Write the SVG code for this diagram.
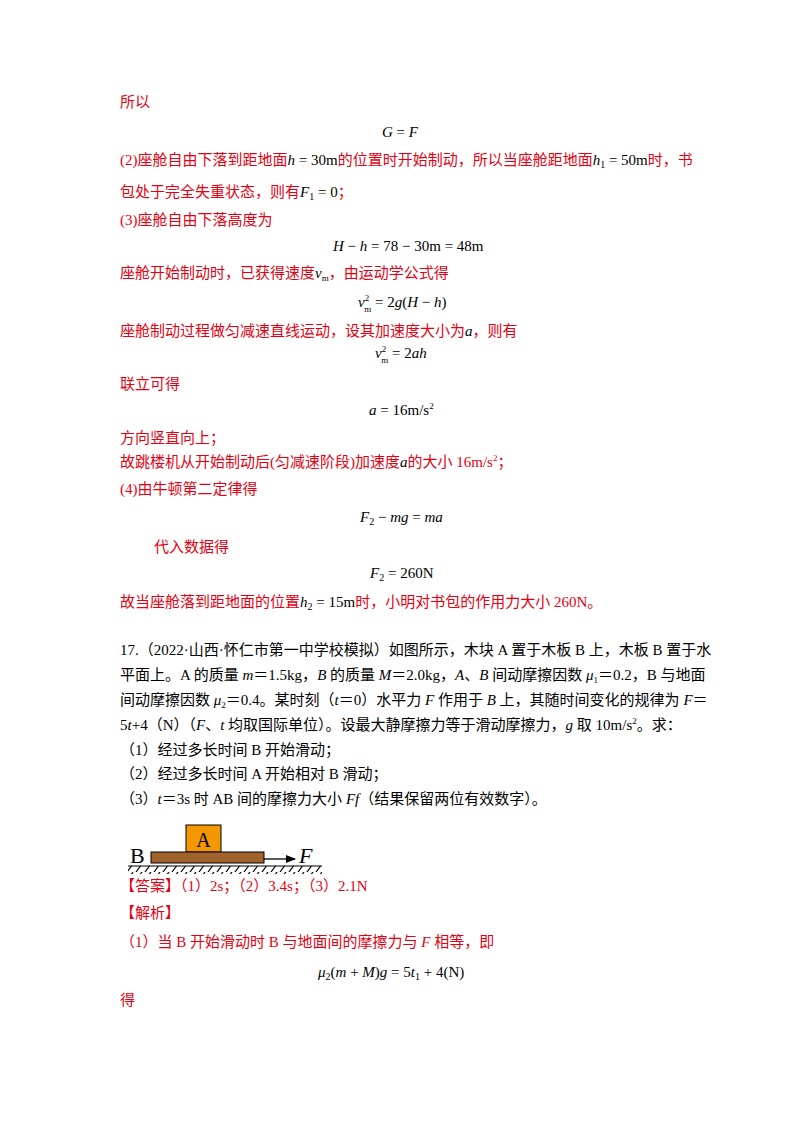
<svg xmlns="http://www.w3.org/2000/svg" width="800" height="1132" viewBox="0 0 800 1132">
<style>
svg{font-size:15px}
text{font-family:"Liberation Serif","Noto Sans CJK SC",serif}
.r{fill:#e60012}
.k{fill:#000}
.i{font-style:italic}
</style>
<defs><marker id="ah" markerWidth="10" markerHeight="8" refX="9" refY="4" orient="auto" markerUnits="userSpaceOnUse"><path d="M0,0 L10,4 L0,8 Z" fill="#000"/></marker>
<pattern id="hatch" width="9" height="8" patternUnits="userSpaceOnUse"><line x1="7" y1="0" x2="1" y2="8" stroke="#000" stroke-width="1.2"/></pattern></defs>
<rect width="800" height="1132" fill="#fff"/>
<text class="r" x="120" y="107">所以</text>
<text class="k" x="382" y="137"><tspan class="i">G</tspan> = <tspan class="i">F</tspan></text>
<text class="r" x="120" y="165">(2)座舱自由下落到距地面<tspan class="k"><tspan class="i">h</tspan> = 30m</tspan>的位置时开始制动，所以当座舱距地面<tspan class="k"><tspan class="i">h</tspan><tspan font-size="10" dy="3">1</tspan><tspan dy="-3"> = 50m</tspan></tspan>时，书</text>
<text class="r" x="120" y="197">包处于完全失重状态，则有<tspan class="k"><tspan class="i">F</tspan><tspan font-size="10" dy="3">1</tspan><tspan dy="-3"> = 0</tspan></tspan>；</text>
<text class="r" x="120" y="225">(3)座舱自由下落高度为</text>
<text class="k" x="333" y="251"><tspan class="i">H</tspan> − <tspan class="i">h</tspan> = 78 − 30m = 48m</text>
<text class="r" x="120" y="278">座舱开始制动时，已获得速度<tspan class="k"><tspan class="i">v</tspan><tspan font-size="9" dy="3">m</tspan></tspan><tspan dy="-3">，由运动学公式得</tspan></text>
<text class="k" x="358" y="307"><tspan class="i">v</tspan><tspan font-size="9" dy="-6">2</tspan><tspan font-size="9" dx="-5" dy="11">m</tspan><tspan dy="-5"> = 2</tspan><tspan class="i">g</tspan>(<tspan class="i">H</tspan> − <tspan class="i">h</tspan>)</text>
<text class="r" x="120" y="336">座舱制动过程做匀减速直线运动，设其加速度大小为<tspan class="k i">a</tspan>，则有</text>
<text class="k" x="375" y="358"><tspan class="i">v</tspan><tspan font-size="9" dy="-6">2</tspan><tspan font-size="9" dx="-5" dy="11">m</tspan><tspan dy="-5"> = 2</tspan><tspan class="i">ah</tspan></text>
<text class="r" x="120" y="389">联立可得</text>
<text class="k" x="369" y="415"><tspan class="i">a</tspan> = 16m/s<tspan font-size="9" dy="-6">2</tspan></text>
<text class="r" x="120" y="443">方向竖直向上；</text>
<text class="r" x="120" y="467">故跳楼机从开始制动后(匀减速阶段)加速度<tspan class="k i">a</tspan>的大小 16m/s<tspan font-size="9" dy="-6">2</tspan><tspan dy="6">；</tspan></text>
<text class="r" x="120" y="494">(4)由牛顿第二定律得</text>
<text class="k" x="360" y="522"><tspan class="i">F</tspan><tspan font-size="10" dy="3">2</tspan><tspan dy="-3"> − </tspan><tspan class="i">mg</tspan> = <tspan class="i">ma</tspan></text>
<text class="r" x="154" y="552">代入数据得</text>
<text class="k" x="370" y="578"><tspan class="i">F</tspan><tspan font-size="10" dy="3">2</tspan><tspan dy="-3"> = 260N</tspan></text>
<text class="r" x="120" y="607">故当座舱落到距地面的位置<tspan class="k"><tspan class="i">h</tspan><tspan font-size="10" dy="3">2</tspan><tspan dy="-3"> = 15m</tspan></tspan>时，小明对书包的作用力大小 260N。</text>
<g class="k">
<text x="120" y="655">17.（2022·山西·怀仁市第一中学校模拟）如图所示，木块 A 置于木板 B 上，木板 B 置于水</text>
<text x="120" y="680">平面上。A 的质量 <tspan class="i">m</tspan>＝1.5kg，<tspan class="i">B</tspan> 的质量 <tspan class="i">M</tspan>＝2.0kg，<tspan class="i">A</tspan>、<tspan class="i">B</tspan> 间动摩擦因数 <tspan class="i">μ</tspan><tspan font-size="9" dy="3">1</tspan><tspan dy="-3">＝0.2，B 与地面</tspan></text>
<text x="120" y="705">间动摩擦因数 <tspan class="i">μ</tspan><tspan font-size="9" dy="3">2</tspan><tspan dy="-3">＝0.4。某时刻（</tspan><tspan class="i">t</tspan>＝0）水平力 <tspan class="i">F</tspan> 作用于 <tspan class="i">B</tspan> 上，其随时间变化的规律为 <tspan class="i">F</tspan>＝</text>
<text x="120" y="730">5<tspan class="i">t</tspan>+4（N）（<tspan class="i">F</tspan>、<tspan class="i">t</tspan> 均取国际单位）。设最大静摩擦力等于滑动摩擦力，<tspan class="i">g</tspan> 取 10m/s<tspan font-size="9" dy="-6">2</tspan><tspan dy="6">。求：</tspan></text>
<text x="120" y="755">（1）经过多长时间 B 开始滑动；</text>
<text x="120" y="779">（2）经过多长时间 A 开始相对 B 滑动；</text>
<text x="120" y="804">（3）<tspan class="i">t</tspan>＝3s 时 AB 间的摩擦力大小 <tspan class="i">Ff</tspan>（结果保留两位有效数字）。</text>
</g>
<g id="figure">
<rect x="186" y="825" width="35" height="27" fill="#f39800" stroke="#000" stroke-width="1"/>
<text x="203.5" y="847" text-anchor="middle" font-size="20">A</text>
<rect x="151" y="852" width="113" height="11" fill="#a0632d" stroke="#000" stroke-width="1"/>
<text x="130" y="863" font-size="22">B</text>
<line x1="264" y1="859" x2="295" y2="859" stroke="#000" stroke-width="1.3" marker-end="url(#ah)"/>
<text x="299" y="863" font-size="22" class="i">F</text>
<line x1="128" y1="866" x2="322" y2="866" stroke="#000" stroke-width="1.2"/>
<rect x="128" y="866" width="194" height="8" fill="url(#hatch)"/>
</g>
<text class="r" x="120" y="891">【答案】（1）2s；（2）3.4s；（3）2.1N</text>
<text class="r" x="120" y="918">【解析】</text>
<text class="r" x="120" y="947">（1）当 B 开始滑动时 B 与地面间的摩擦力与 <tspan class="i">F</tspan> 相等，即</text>
<text class="k" x="318" y="977"><tspan class="i">μ</tspan><tspan font-size="10" dy="3">2</tspan><tspan dy="-3">(</tspan><tspan class="i">m</tspan> + <tspan class="i">M</tspan>)<tspan class="i">g</tspan> = 5<tspan class="i">t</tspan><tspan font-size="10" dy="3">1</tspan><tspan dy="-3"> + 4(N)</tspan></text>
<text class="r" x="120" y="1005">得</text>
</svg>
